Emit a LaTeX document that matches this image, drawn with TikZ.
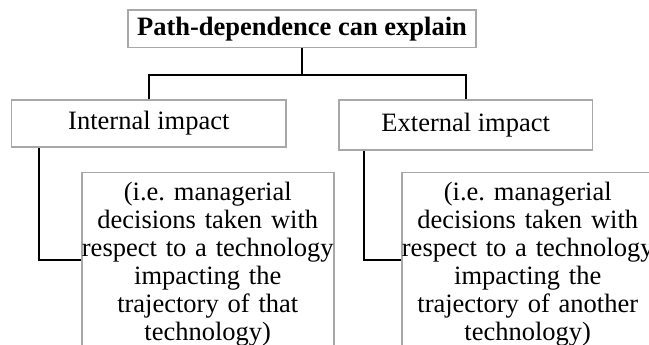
\documentclass[tikz,border=0pt]{standalone}
\usepackage{fontspec}
\setmainfont{Liberation Serif}
\frenchspacing
\usepackage{tikz}
\definecolor{boxgray}{RGB}{168,168,168}
\tikzstyle{every node}=[draw=boxgray,line width=1.5pt,font=\fontsize{26.5}{28}\selectfont,inner sep=0pt]
\tikzstyle{headbox}=[minimum height=47pt]
\tikzstyle{detailbox}=[anchor=north west,minimum width=252pt,align=center,text width=252pt,text height=27.6pt,text depth=147.4pt]
\tikzstyle{link}=[line width=2pt,black]

\begin{document}
\begin{tikzpicture}[x=1pt,y=-1pt]
          \useasboundingbox (0,0) rectangle (649,345);
          \node[minimum width=348pt,minimum height=37.7pt,font=\fontsize{26.5}{28}\selectfont\bfseries] (explain) at (302,28.8) {Path-dependence can explain};
          \node[headbox,minimum width=274.3pt] (internal) at (148.8,123.3) {Internal impact};
          \node[headbox,minimum width=253.3pt,minimum height=50pt] (external) at (465.7,125) {External impact};
          \node[detailbox] (internaldetail) at (81,171.7) {(i.e. managerial\\ decisions taken with\\ respect to a technology\\ impacting the\\ trajectory of that\\ technology)};
          \node[detailbox] (externaldetail) at (401,171.7) {(i.e. managerial\\ decisions taken with\\ respect to a technology\\ impacting the\\ trajectory of another\\ technology)};
          \draw[link] (explain.south) -- ++(0,26.3) coordinate (split);
          \draw[link] (internal.north) |- (split) -| (external.north);
          \draw[link] ([xshift=28.3pt]internal.south west) |- (internaldetail.west);
          \draw[link] ([xshift=25.3pt]external.south west) |- (externaldetail.west);
        \end{tikzpicture}
\end{document}
